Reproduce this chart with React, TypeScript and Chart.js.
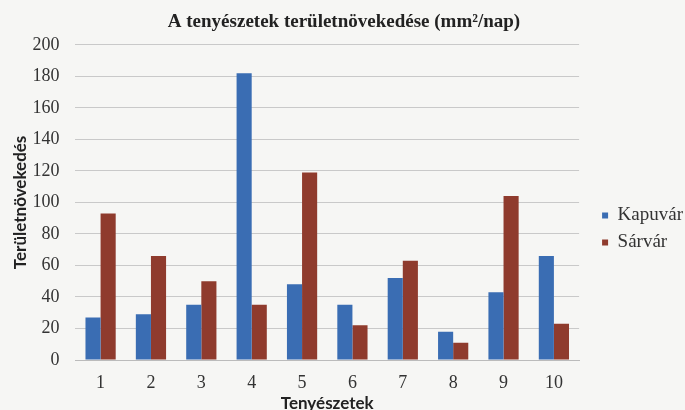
import React, { useEffect, useRef } from "react";
import { Chart, registerables } from "chart.js";

Chart.register(...registerables);

const categories = ["1", "2", "3", "4", "5", "6", "7", "8", "9", "10"];
const kapuvar = [27, 29, 35, 182, 48, 35, 52, 18, 43, 66];
const sarvar = [93, 66, 50, 35, 119, 22, 63, 11, 104, 23];
const yTicks = [0, 20, 40, 60, 80, 100, 120, 140, 160, 180, 200];

const legendShift = {
  id: "legendShift",
  afterLayout(chart: any) {
    const lg = chart.legend;
    if (!lg) return;
    lg.left += 15;
    lg.right += 15;
    lg.top += 20;
    lg.bottom += 20;
  },
};

export default function App() {
  const ref = useRef<HTMLCanvasElement | null>(null);
  useEffect(() => {
    if (!ref.current) return;
    const serif = "'Liberation Serif', 'Times New Roman', serif";
    const sans = "Lato, 'Liberation Sans', sans-serif";
    const chart = new Chart(ref.current, {
      type: "bar",
      data: {
        labels: categories,
        datasets: [
          { label: "Kapuvár", data: kapuvar, backgroundColor: "#3a6db3", categoryPercentage: 0.6, barPercentage: 1 },
          { label: "Sárvár", data: sarvar, backgroundColor: "#8f3b2d", categoryPercentage: 0.6, barPercentage: 1 },
        ],
      },
      plugins: [legendShift],
      options: {
        animation: false,
        responsive: false,
        maintainAspectRatio: false,
        layout: { padding: { top: 8, right: 7, bottom: 0, left: 10 } },
        plugins: {
          title: {
            display: true,
            text: "A tenyészetek területnövekedése (mm²/nap)",
            color: "#222",
            font: { family: serif, size: 19, weight: "bold" },
            padding: { top: 3, bottom: 11 },
          },
          legend: {
            position: "right",
            labels: {
              boxWidth: 6,
              boxHeight: 6,
              color: "#333",
              font: { family: serif, size: 19 },
              padding: 8,
            },
          },
          tooltip: { enabled: false },
        },
        scales: {
          x: {
            grid: { display: false },
            border: { color: "#bbb" },
            ticks: { color: "#333", font: { family: serif, size: 18 }, padding: 4 },
            title: {
              display: true,
              text: "Tenyészetek",
              color: "#222",
              font: { family: sans, size: 17, weight: "bold" },
              padding: { top: -4, bottom: -4 },
            },
          },
          y: {
            min: 0,
            max: 200,
            afterBuildTicks: (axis: any) => {
              axis.ticks = yTicks.map((v) => ({ value: v }));
            },
            grid: { color: "#c9c9c9", drawTicks: false },
            border: { display: false },
            ticks: { color: "#333", font: { family: serif, size: 18 }, padding: 16 },
            title: {
              display: true,
              text: "Területnövekedés",
              color: "#222",
              font: { family: sans, size: 17, weight: "bold" },
              padding: { top: 0, bottom: -14 },
            },
          },
        },
      },
    });
    return () => chart.destroy();
  }, []);
  return (
    <div style={{ position: "fixed", left: 0, top: 0, width: 685, height: 410, background: "#f6f6f4" }}>
      <canvas ref={ref} width={685} height={410} style={{ display: "block" }} />
    </div>
  );
}
